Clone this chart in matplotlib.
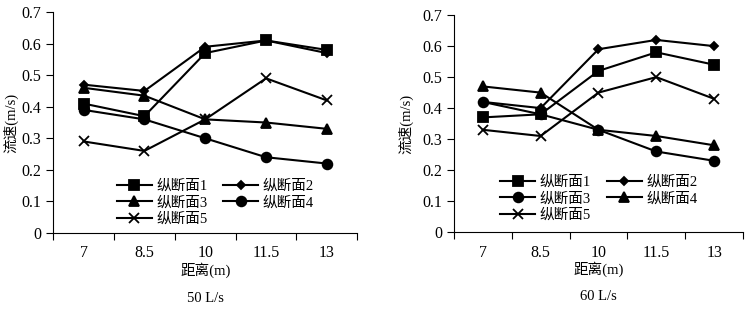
import matplotlib
matplotlib.use("Agg")
import matplotlib.pyplot as plt

plt.rcParams['font.family'] = ['Liberation Serif', 'Noto Sans CJK SC']

# ── data ────────────────────────────────────────────────────────────────
distances = ["7", "8.5", "10", "11.5", "13"]

# 50 L/s
q50_s1 = [0.41, 0.37, 0.57, 0.61, 0.58]
q50_s2 = [0.47, 0.45, 0.59, 0.61, 0.57]
q50_s3 = [0.46, 0.435, 0.36, 0.35, 0.33]
q50_s4 = [0.39, 0.36, 0.30, 0.24, 0.22]
q50_s5 = [0.29, 0.26, 0.36, 0.49, 0.42]

# 60 L/s
q60_s1 = [0.37, 0.38, 0.52, 0.58, 0.54]
q60_s2 = [0.42, 0.40, 0.59, 0.62, 0.60]
q60_s3 = [0.42, 0.38, 0.33, 0.26, 0.23]
q60_s4 = [0.47, 0.45, 0.33, 0.31, 0.28]
q60_s5 = [0.33, 0.31, 0.45, 0.50, 0.43]

labels = ["纵断面1", "纵断面2", "纵断面3", "纵断面4", "纵断面5"]

styles_50 = [("s", 7), ("D", 4.5), ("^", 7), ("o", 7), ("x", 7.5)]
styles_60 = [("s", 7), ("D", 4.5), ("o", 7), ("^", 7), ("x", 7.5)]

FS_NUM = 11.5
FS_CJK = 10.5
FS_CAP = 10.5


def draw_panel(ax, series, styles, caption, legend_anchor, ylab_x):
    xs = range(len(distances))
    handles = []
    for vals, (m, ms), lab in zip(series, styles, labels):
        h, = ax.plot(xs, vals, color="black", lw=1.5, marker=m, ms=ms,
                     mew=1.3, label=lab)
        handles.append(h)
    ax.set_xlim(-0.5, len(distances) - 0.5)
    ax.set_ylim(0, 0.7)
    ax.set_yticks([0, 0.1, 0.2, 0.3, 0.4, 0.5, 0.6, 0.7])
    ax.set_yticklabels(["0", "0.1", "0.2", "0.3", "0.4", "0.5", "0.6", "0.7"])
    ax.set_xticks([i - 0.5 for i in range(len(distances) + 1)])
    ax.set_xticklabels([])
    ax.set_xticks(list(xs), minor=True)
    ax.set_xticklabels(distances, minor=True)
    ax.tick_params(axis="x", which="minor", length=0, pad=9, labelsize=FS_NUM)
    ax.tick_params(axis="x", which="major", direction="out", length=5)
    ax.tick_params(axis="y", direction="out", length=5, labelsize=FS_NUM)
    for s in ("top", "right"):
        ax.spines[s].set_visible(False)
    ax.set_xlabel("距离(m)", fontsize=FS_CJK)
    ax.xaxis.set_label_coords(0.5, -0.135)
    ax.set_ylabel("流速(m/s)", fontsize=FS_CJK)
    ax.yaxis.set_label_coords(ylab_x, 0.5)
    # row-major legend order: (1,2), (3,4), (5)
    order = [0, 2, 4, 1, 3]
    ax.legend([handles[i] for i in order], [labels[i] for i in order],
              loc="lower left", bbox_to_anchor=legend_anchor, ncol=2,
              frameon=False, fontsize=FS_CJK, handlelength=2.4,
              handletextpad=0.3, columnspacing=1.1, labelspacing=0.22,
              borderaxespad=0)
    ax.text(0.5, -0.295, caption, transform=ax.transAxes, ha="center",
            va="center", fontsize=FS_CAP)


fig = plt.figure(figsize=(7.49, 3.09), dpi=100)
ax1 = fig.add_axes([0.071, 0.246, 0.406, 0.715])
ax2 = fig.add_axes([0.606, 0.249, 0.386, 0.702])

draw_panel(ax1, [q50_s1, q50_s2, q50_s3, q50_s4, q50_s5], styles_50,
           "50 L/s", (0.19, 0.005), -0.115)
draw_panel(ax2, [q60_s1, q60_s2, q60_s3, q60_s4, q60_s5], styles_60,
           "60 L/s", (0.14, 0.02), -0.14)

fig.savefig("out.png", dpi=100)
